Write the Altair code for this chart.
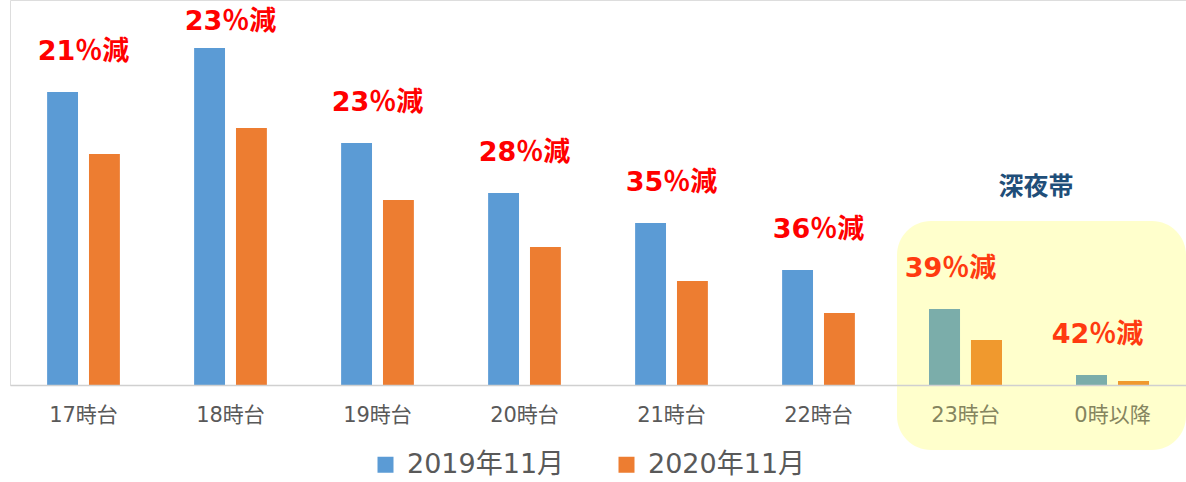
import altair as alt
import pandas as pd

cats = ["17時台", "18時台", "19時台", "20時台", "21時台", "22時台", "23時台", "0時以降"]
v2019 = [293, 337, 242, 192, 162, 115, 76, 10]
v2020 = [231, 257, 185, 138, 104, 72, 45, 4]
labels = ["21％減", "23％減", "23％減", "28％減", "35％減", "36％減", "39％減", "42％減"]
series = ["2019年11月", "2020年11月"]
night = ["23時台", "0時以降"]

rows = []
for c, a, b in zip(cats, v2019, v2020):
    rows.append({"cat": c, "series": series[0], "value": a, "night": c in night})
    rows.append({"cat": c, "series": series[1], "value": b, "night": c in night})
bars_df = pd.DataFrame(rows)
lab_df = pd.DataFrame({"cat": cats, "top": v2019, "label": labels,
                       "night": [c in night for c in cats]})

FONT = "DejaVu Sans, Noto Sans CJK JP"

xscale = alt.Scale(domain=cats, paddingInner=0.505, paddingOuter=0.2525)
yscale = alt.Scale(domain=[0, 385], nice=False)
xoff_scale = alt.Scale(paddingInner=0.262, paddingOuter=0)

x_enc = alt.X("cat:N", scale=xscale, sort=cats,
              axis=alt.Axis(title=None, ticks=False, labelAngle=0, labelFontSize=21,
                            labelFont=FONT, labelPadding=19, zindex=1,
                            labelColor=alt.expr("indexof(['23時台','0時以降'], datum.value) >= 0 ? '#85855f' : '#595959'"),
                            domainColor="#d0d0d0", domainWidth=1.5, grid=False))
y_enc = alt.Y("value:Q", scale=yscale, axis=None)

# highlight box for late-night zone (decoration)
box = alt.Chart(pd.DataFrame({"k": [1]})).mark_rect(
    color="#ffffcc", cornerRadius=34
).encode(x=alt.value(887), x2=alt.value(1176), y=alt.value(221), y2=alt.value(450))

bars = alt.Chart(bars_df).mark_bar().encode(
    x=x_enc, y=y_enc,
    xOffset=alt.XOffset("series:N", scale=xoff_scale, sort=series),
    color=alt.Color("series:N", sort=series,
                    scale=alt.Scale(domain=series, range=["#5b9bd5", "#ed7d31"]),
                    legend=alt.Legend(title=None, orient="none", legendX=362, legendY=451,
                                      direction="horizontal", symbolType="square",
                                      symbolSize=256, symbolStrokeWidth=0,
                                      labelFontSize=27, labelFont=FONT, labelColor="#595959",
                                      labelLimit=400, labelOffset=8, columnPadding=48,
                                      padding=0)),
)

night_bars = alt.Chart(bars_df).transform_filter("datum.night").mark_bar().encode(
    x=alt.X("cat:N", scale=xscale, sort=cats),
    y=y_enc,
    xOffset=alt.XOffset("series:N", scale=xoff_scale, sort=series),
    color=alt.Color("series:N", sort=series,
                    scale=alt.Scale(domain=series, range=["#7badaa", "#f0992e"]),
                    legend=None),
)

lab_base = alt.Chart(lab_df).transform_calculate(ly="min(datum.top + 40, 363)")

day_labels = lab_base.transform_filter("!datum.night").mark_text(
    font=FONT, fontSize=27, fontWeight="bold", color="#ff0000", baseline="middle"
).encode(x=alt.X("cat:N", scale=xscale, sort=cats), y=alt.Y("ly:Q", scale=yscale), text="label:N")

night_labels = lab_base.transform_filter("datum.night").mark_text(
    font=FONT, fontSize=27, fontWeight="bold", color="#ff3a10", dx=-15, baseline="middle"
).encode(x=alt.X("cat:N", scale=xscale, sort=cats), y=alt.Y("ly:Q", scale=yscale), text="label:N")

zone_title = alt.Chart(pd.DataFrame({"t": ["深夜帯"]})).mark_text(
    font=FONT, fontSize=25, fontWeight="bold", color="#1f4e79", baseline="middle", dx=-40
).encode(x=alt.X("cat:N", scale=xscale, sort=cats, bandPosition=0),
         y=alt.datum(198), text="t:N").transform_calculate(cat="'0時以降'")

chart = alt.layer(box, bars, night_bars, day_labels, night_labels, zone_title).resolve_scale(
    color="independent"
).properties(
    width=1176, height=385,
    autosize=alt.AutoSizeParams(type="none"),
    padding={"left": 10, "top": 0, "right": 0, "bottom": 97},
).configure_view(stroke=None).configure(background="white")

chart.save("out.html", embed_options={"renderer": "svg", "actions": False})
